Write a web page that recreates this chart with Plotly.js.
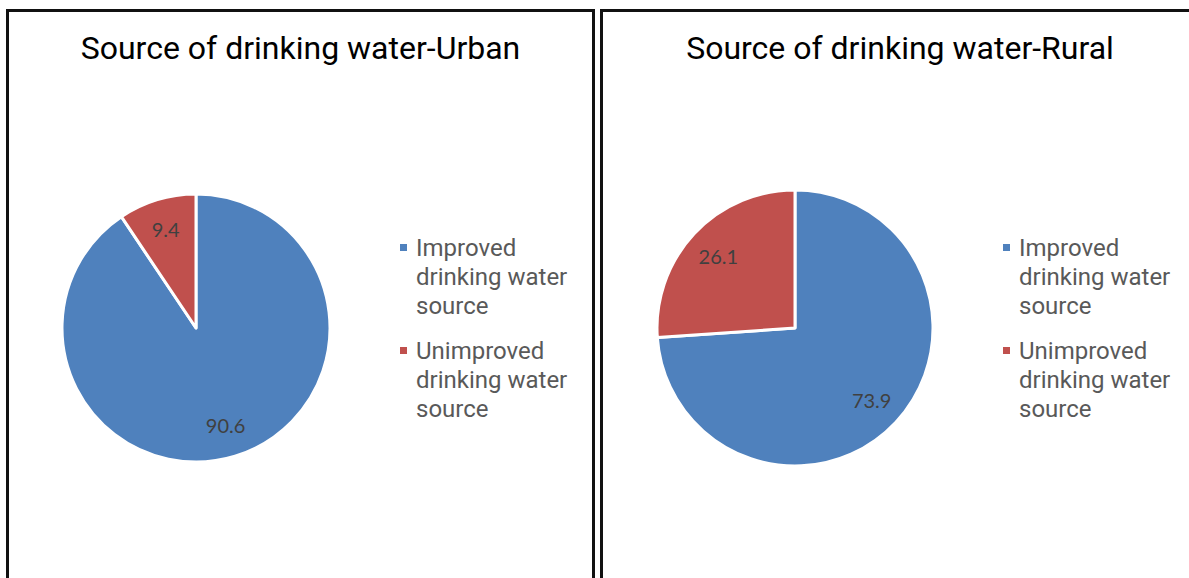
<!DOCTYPE html>
<html>
<head>
<meta charset="utf-8">
<script src="https://cdn.plot.ly/plotly-3.0.1.min.js"></script>
<style>
  html, body { margin: 0; padding: 0; background: #fff; width: 1189px; height: 578px; overflow: hidden; }
  .panel { position: absolute; top: 9px; height: 620px; border: 3px solid #111; box-sizing: border-box; background: #fff; }
  #p1 { left: 6px; width: 589px; }
  #p2 { left: 600px; width: 600px; }
</style>
</head>
<body>
<div class="panel" id="p1"><div id="chart1"></div></div>
<div class="panel" id="p2"><div id="chart2"></div></div>
<script>
const categories = ["Improved drinking water source", "Unimproved drinking water source"];
const legendLines = [["Improved", "drinking water", "source"], ["Unimproved", "drinking water", "source"]];
const urbanValues = [90.6, 9.4];
const ruralValues = [73.9, 26.1];
const urbanTitle = "Source of drinking water-Urban";
const ruralTitle = "Source of drinking water-Rural";
const colors = ["#4F81BD", "#C0504D"];

function makePie(div, values, title, w, h, dom, legendTextX, legendTopY) {
  const base = {
    type: "pie",
    labels: categories,
    values: values,
    sort: false,
    direction: "clockwise",
    rotation: 0,
    textinfo: "none",
    marker: { colors: colors, line: { color: "#ffffff", width: 3 } },
    domain: dom,
    showlegend: false,
    hoverinfo: "label+value"
  };
  // transparent ring trace that carries the value labels at ~3/4 radius
  const labelsTrace = {
    type: "pie",
    labels: categories,
    values: values,
    sort: false,
    direction: "clockwise",
    rotation: 0,
    hole: 0.52,
    textinfo: "value",
    texttemplate: "%{value}",
    textposition: "inside",
    insidetextorientation: "horizontal",
    textfont: { family: "Lato, 'Open Sans', sans-serif", size: 20, color: "#404040" },
    marker: { colors: ["rgba(0,0,0,0)", "rgba(0,0,0,0)"], line: { width: 0 } },
    domain: dom,
    showlegend: false,
    hoverinfo: "skip"
  };
  const annotations = [];
  const shapes = [];
  const lineStep = 29, itemStep = 103;
  legendLines.forEach((lines, i) => {
    const y0 = legendTopY + i * itemStep;
    shapes.push({
      type: "rect", xref: "paper", yref: "paper",
      x0: (legendTextX - 16) / w, x1: (legendTextX - 9) / w,
      y0: 1 - (y0 - 4) / h, y1: 1 - (y0 + 3) / h,
      fillcolor: colors[i], line: { width: 0 }
    });
    lines.forEach((t, j) => {
      annotations.push({
        text: t, showarrow: false, xref: "paper", yref: "paper",
        x: (legendTextX - 2) / w, xanchor: "left",
        y: 1 - (y0 + j * lineStep) / h, yanchor: "middle",
        font: { family: "Roboto, sans-serif", size: 24, color: "#595959" }
      });
    });
  });
  const layout = {
    width: w, height: h,
    margin: { l: 0, r: 0, t: 0, b: 0 },
    paper_bgcolor: "#ffffff",
    title: {
      text: title,
      font: { family: "Roboto, sans-serif", size: 32, color: "#000000" },
      x: 0.5, xanchor: "center", xref: "paper",
      y: 1 - 36 / h, yanchor: "middle", yref: "container"
    },
    showlegend: false,
    annotations: annotations,
    shapes: shapes
  };
  Plotly.newPlot(div, [base, labelsTrace], layout, { displayModeBar: false, staticPlot: true });
}

const H = 569;
makePie("chart1", urbanValues, urbanTitle, 583, H,
  { x: [53 / 583, 321 / 583], y: [(253 - 134) / H, (253 + 134) / H] }, 407, 236);
makePie("chart2", ruralValues, ruralTitle, 594, H,
  { x: [54 / 594, 330 / 594], y: [(253 - 138) / H, (253 + 138) / H] }, 416, 236);
</script>
</body>
</html>
